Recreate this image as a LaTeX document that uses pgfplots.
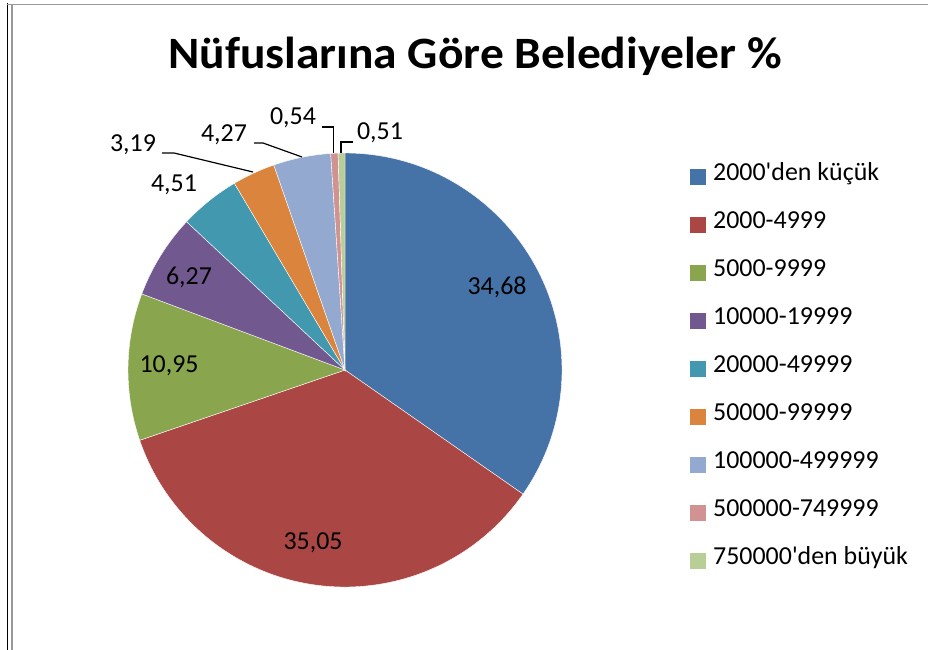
\documentclass[border=0pt]{standalone}
\usepackage{pgfplots}
\pgfplotsset{compat=1.18}
\usepackage{pgfplotstable}
\usepackage{fontspec}
\setmainfont{Carlito}
\newfontfamily\titlefont[FakeStretch=1.06]{Carlito}

\definecolor{c0}{HTML}{4572A7}
\definecolor{c1}{HTML}{AA4643}
\definecolor{c2}{HTML}{89A54E}
\definecolor{c3}{HTML}{71588F}
\definecolor{c4}{HTML}{4198AF}
\definecolor{c5}{HTML}{DB843D}
\definecolor{c6}{HTML}{93A9CF}
\definecolor{c7}{HTML}{D19392}
\definecolor{c8}{HTML}{B9CD96}

\pgfplotstableread{
idx value
0 34.68
1 35.05
2 10.95
3 6.27
4 4.51
5 3.19
6 4.27
7 0.54
8 0.51
}\piedata

\xdef\pietotal{0}
\foreach \i in {0,...,8}{%
  \pgfplotstablegetelem{\i}{value}\of\piedata
  \pgfmathsetmacro\t{\pietotal+\pgfplotsretval}%
  \xdef\pietotal{\t}%
}
\pgfmathsetmacro\piefactor{360/\pietotal}
\xdef\piefactor{\piefactor}
\xdef\piecum{0}
\foreach \i in {0,...,8}{%
  \pgfplotstablegetelem{\i}{value}\of\piedata
  \pgfmathsetmacro\sa{90-\piefactor*\piecum}%
  \pgfmathsetmacro\c{\piecum+\pgfplotsretval}%
  \xdef\piecum{\c}%
  \pgfmathsetmacro\ea{90-\piefactor*\piecum}%
  \expandafter\xdef\csname piesa\i\endcsname{\sa}%
  \expandafter\xdef\csname pieea\i\endcsname{\ea}%
}

\newcommand\lblfont{\fontsize{26}{26}\selectfont}
\newcommand\legfont{\fontsize{26}{26}\selectfont}

\begin{document}
\begin{tikzpicture}
\fill[white] (0,0) rectangle (928bp,650bp);
\begin{axis}[hide axis, scale only axis, width=928bp, height=650bp,
  xmin=0, xmax=928, ymin=0, ymax=650, clip=false]
% pie slices
\pgfplotsinvokeforeach{0,...,8}{%
  \fill[c#1, draw=white, line width=0.4pt] (axis cs:345,280) -- ++(\csname piesa#1\endcsname:217bp)
     arc[start angle=\csname piesa#1\endcsname, end angle=\csname pieea#1\endcsname, radius=217bp] -- cycle;
}
% frame
\draw[black, line width=1.5pt] (axis cs:7.5,0) -- (axis cs:7.5,647);
\draw[gray!80, line width=1.5pt] (axis cs:12,0) -- (axis cs:12,645.5);
\draw[gray!80, line width=1.5pt] (axis cs:7,645.5) -- (axis cs:928,645.5);
% title
\node[anchor=base, font=\fontsize{45}{45}\selectfont\titlefont\bfseries, inner sep=0pt] at (axis cs:475,581) {Nüfuslarına Göre Belediyeler \%};
% data labels
\tikzset{lbl/.style={font=\lblfont, inner sep=0pt, text height=0.63em, text depth=0pt, anchor=center}}
\node[lbl] at (axis cs:497,358.5) {34,68};
\node[lbl] at (axis cs:313,103.5) {35,05};
\node[lbl] at (axis cs:169,281) {10,95};
\node[lbl] at (axis cs:189,369) {6,27};
\node[lbl] at (axis cs:174,462) {4,51};
\node[lbl] at (axis cs:133,502) {3,19};
\node[lbl] at (axis cs:224,512) {4,27};
\node[lbl] at (axis cs:293,529) {0,54};
\node[lbl] at (axis cs:380,514) {0,51};
% leader lines
\draw[black, line width=1.2pt] (axis cs:162,497) -- (axis cs:174,497) -- (axis cs:253,478);
\draw[black, line width=1.2pt] (axis cs:254,507) -- (axis cs:263,507) -- (axis cs:302,493);
\draw[black, line width=1.2pt] (axis cs:322,523) -- (axis cs:333.5,523) -- (axis cs:333.5,497);
\draw[black, line width=1.2pt] (axis cs:353,508) -- (axis cs:341,508) -- (axis cs:341,497);
% legend
\tikzset{legtxt/.style={font=\legfont, inner sep=0pt, text height=0.63em, text depth=0pt, anchor=west}}
\fill[c0] (axis cs:690,465) rectangle (axis cs:706,481);
\node[legtxt] at (axis cs:713,473) {2000\textquotesingle den küçük};
\fill[c1] (axis cs:690,417) rectangle (axis cs:706,433);
\node[legtxt] at (axis cs:713,425) {2000-4999};
\fill[c2] (axis cs:690,369) rectangle (axis cs:706,385);
\node[legtxt] at (axis cs:713,377) {5000-9999};
\fill[c3] (axis cs:690,321) rectangle (axis cs:706,337);
\node[legtxt] at (axis cs:713,329) {10000-19999};
\fill[c4] (axis cs:690,273) rectangle (axis cs:706,289);
\node[legtxt] at (axis cs:713,281) {20000-49999};
\fill[c5] (axis cs:690,225) rectangle (axis cs:706,241);
\node[legtxt] at (axis cs:713,233) {50000-99999};
\fill[c6] (axis cs:690,177) rectangle (axis cs:706,193);
\node[legtxt] at (axis cs:713,185) {100000-499999};
\fill[c7] (axis cs:690,129) rectangle (axis cs:706,145);
\node[legtxt] at (axis cs:713,137) {500000-749999};
\fill[c8] (axis cs:690,81) rectangle (axis cs:706,97);
\node[legtxt] at (axis cs:713,89) {750000\textquotesingle den büyük};
\end{axis}
\pgfresetboundingbox
\path[use as bounding box] (0,0) rectangle (928bp,650bp);
\end{tikzpicture}
\end{document}
